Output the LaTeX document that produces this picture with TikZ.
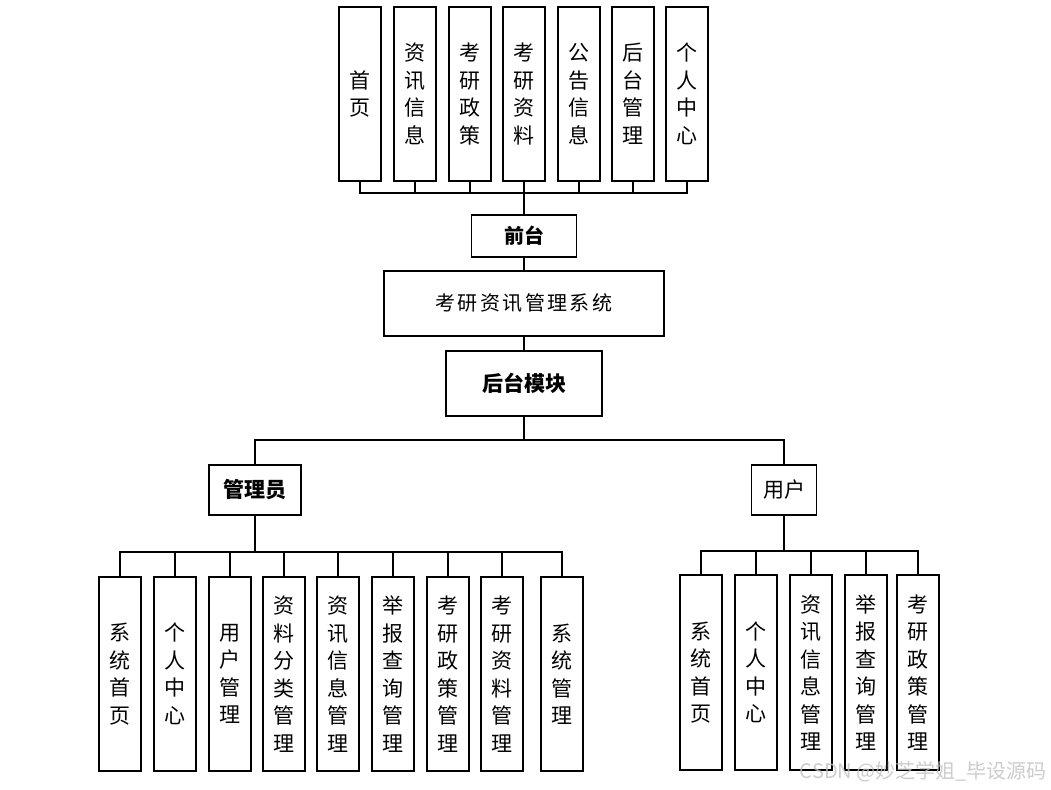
\documentclass[tikz,border=0pt]{standalone}
\usepackage{fontspec}
\newfontfamily\cjk{Noto Sans CJK SC}
\begin{document}
\begin{tikzpicture}[x=1pt, y=-1pt,
    box/.style={draw, line width=1.7pt, inner sep=0pt, font=\cjk\fontsize{21}{25}\selectfont},
    vbox/.style={box, minimum width=42pt, align=center, font=\cjk\fontsize{21}{27.5}\selectfont},
    link/.style={line width=1.8pt}]
    \useasboundingbox (0,0) rectangle (1051,789);

    % Front end modules
    \foreach \x/\n/\txt in {360/1/{首\\页}, 415/2/{资\\讯\\信\\息}, 470/3/{考\\研\\政\\策},
        524/4/{考\\研\\资\\料}, 579/5/{公\\告\\信\\息}, 633/6/{后\\台\\管\\理}, 687/7/{个\\人\\中\\心}} {
        \node[vbox, minimum height=174pt] (f\n) at (\x, 94) {\txt};
    }

    % Middle boxes
    \node[box, font=\cjk\bfseries\fontsize{20}{24}\selectfont, minimum width=105pt, minimum height=42pt] (front) at (524, 236) {前台};
    \node[box, font=\cjk\addfontfeature{LetterSpace=12}\fontsize{20}{24}\selectfont, minimum width=280pt, minimum height=65pt] (sys) at (524, 303.5) {考研资讯管理系统};
    \node[box, font=\cjk\bfseries\fontsize{21}{24}\selectfont, minimum width=156pt, minimum height=65pt] (back) at (524, 383.5) {后台模块};

    % Roles
    \node[box, font=\cjk\bfseries\fontsize{21}{24}\selectfont, minimum width=92pt, minimum height=50pt] (admin) at (255, 490) {管理员};
    \node[box, minimum width=65pt, minimum height=50pt] (user) at (784, 490) {用户};

    % Admin modules
    \foreach \x/\n/\txt in {120/1/{系\\统\\首\\页}, 175/2/{个\\人\\中\\心}, 230/3/{用\\户\\管\\理},
        284/4/{资\\料\\分\\类\\管\\理}, 338/5/{资\\讯\\信\\息\\管\\理}, 393/6/{举\\报\\查\\询\\管\\理},
        448/7/{考\\研\\政\\策\\管\\理}, 502/8/{考\\研\\资\\料\\管\\理}, 562/9/{系\\统\\管\\理}} {
        \node[vbox, minimum height=194pt] (a\n) at (\x, 674) {\txt};
    }

    % User modules
    \foreach \x/\n/\txt in {701/1/{系\\统\\首\\页}, 756/2/{个\\人\\中\\心}, 811/3/{资\\讯\\信\\息\\管\\理},
        866/4/{举\\报\\查\\询\\管\\理}, 918/5/{考\\研\\政\\策\\管\\理}} {
        \node[vbox, minimum height=195pt] (u\n) at (\x, 672.5) {\txt};
    }

    % Connectors
    \coordinate (fbus) at (524, 193);
    \foreach \n in {1,...,7} {
        \draw[link] (f\n.south) |- (fbus);
    }
    \draw[link] (fbus) -- (front.north);
    \draw[link] (front.south) -- (sys.north);
    \draw[link] (sys.south) -- (back.north);

    \coordinate (bbus) at (524, 440);
    \draw[link] (back.south) -- (bbus);
    \draw[link] (admin.north) |- (bbus);
    \draw[link] (user.north) |- (bbus);

    \coordinate (abus) at (255, 552);
    \draw[link, line width=2.4pt] (admin.south) -- (abus);
    \foreach \n in {1,...,9} {
        \draw[link] (a\n.north) |- (abus);
    }

    \coordinate (ubus) at (784, 551);
    \draw[link, line width=2.4pt] (user.south) -- (ubus);
    \foreach \n in {1,...,5} {
        \draw[link] (u\n.north) |- (ubus);
    }

    % Watermark
    \node[font=\cjk\fontsize{20}{22}\selectfont, text=gray!50, opacity=0.8, anchor=east, inner sep=0pt] (mark) at (1047, 772) {CSDN @妙芝学姐\_毕设源码};
\end{tikzpicture}
\end{document}
